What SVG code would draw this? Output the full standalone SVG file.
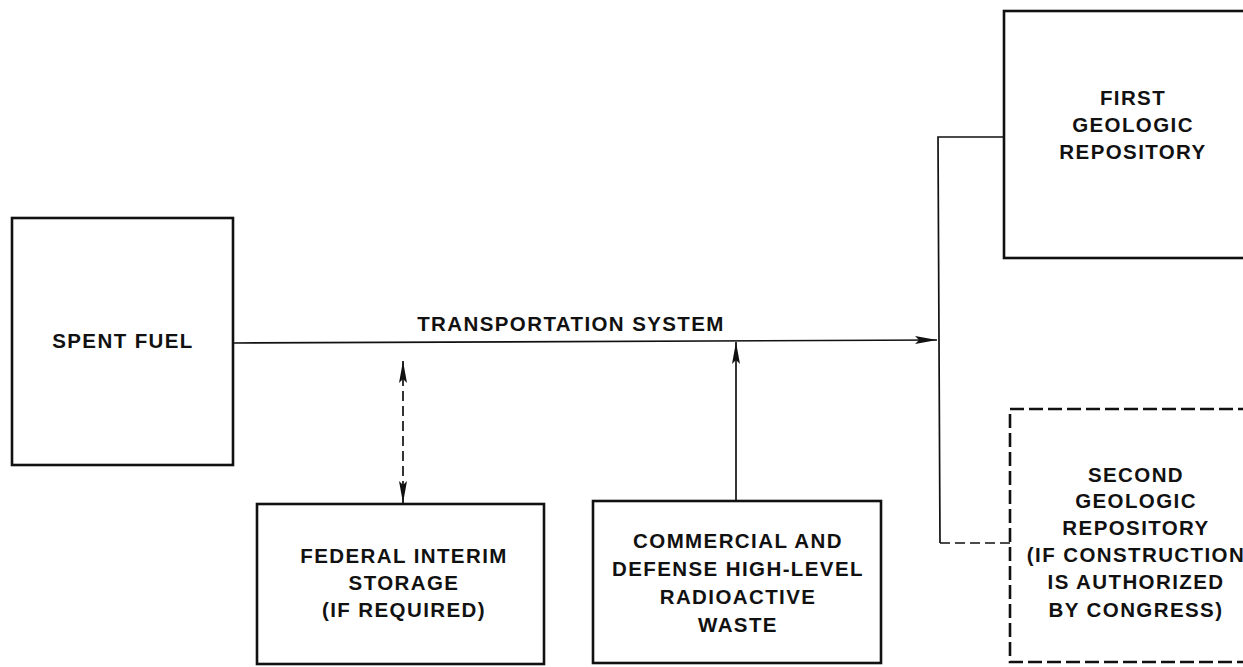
<svg xmlns="http://www.w3.org/2000/svg" width="1243" height="667" viewBox="0 0 1243 667">
  <style>
    .box { fill: none; stroke: #111; stroke-width: 2.6; }
    .dbox { fill: none; stroke: #111; stroke-width: 2.6; stroke-dasharray: 14 5; }
    .conn { fill: none; stroke: #111; stroke-width: 1.7; }
    .dash { stroke-dasharray: 10 5; }
    text { font-family: "Liberation Sans", Arial, sans-serif; font-weight: bold; font-size: 20.5px; letter-spacing: 1.4px; fill: #111; text-anchor: middle; }
  </style>
  <defs>
    <marker id="arr" markerUnits="userSpaceOnUse" markerWidth="24" markerHeight="10" refX="22" refY="4" orient="auto-start-reverse">
      <path d="M0,0 L22,4 L0,8 L4,4 z" fill="#111"/>
    </marker>
  </defs>
  <rect width="1243" height="667" fill="#ffffff"/>

  <g id="connectors">
    <path class="conn" d="M233,343 L937,340" marker-end="url(#arr)"/>
    <path class="conn dash" d="M403,361 L403,503" marker-start="url(#arr)" marker-end="url(#arr)"/>
    <path class="conn" d="M736,501 L736,342" marker-end="url(#arr)"/>
    <path class="conn" d="M1004,137 L938,137 L940,543"/>
    <path class="conn dash" d="M940,543 L1010,543"/>
  </g>

  <g id="spent-fuel">
    <rect class="box" x="12" y="218" width="221" height="247"/>
    <text x="123" y="348">SPENT FUEL</text>
  </g>

  <g id="transportation-label">
    <text x="571" y="331">TRANSPORTATION SYSTEM</text>
  </g>

  <g id="first-repository">
    <rect class="box" x="1004" y="11" width="260" height="247"/>
    <text x="1133" y="105">FIRST</text>
    <text x="1133" y="132">GEOLOGIC</text>
    <text x="1133" y="159">REPOSITORY</text>
  </g>

  <g id="second-repository">
    <rect class="dbox" x="1010" y="409" width="260" height="253"/>
    <text x="1136" y="482">SECOND</text>
    <text x="1136" y="508">GEOLOGIC</text>
    <text x="1136" y="535">REPOSITORY</text>
    <text x="1136" y="562">(IF CONSTRUCTION</text>
    <text x="1136" y="589">IS AUTHORIZED</text>
    <text x="1136" y="617">BY CONGRESS)</text>
  </g>

  <g id="federal-interim-storage">
    <rect class="box" x="257" y="504" width="287" height="160"/>
    <text x="404" y="563">FEDERAL INTERIM</text>
    <text x="404" y="590">STORAGE</text>
    <text x="404" y="617">(IF REQUIRED)</text>
  </g>

  <g id="high-level-waste">
    <rect class="box" x="593" y="501" width="288" height="162"/>
    <text x="738" y="548">COMMERCIAL AND</text>
    <text x="738" y="576">DEFENSE HIGH-LEVEL</text>
    <text x="738" y="604">RADIOACTIVE</text>
    <text x="738" y="632">WASTE</text>
  </g>
</svg>
